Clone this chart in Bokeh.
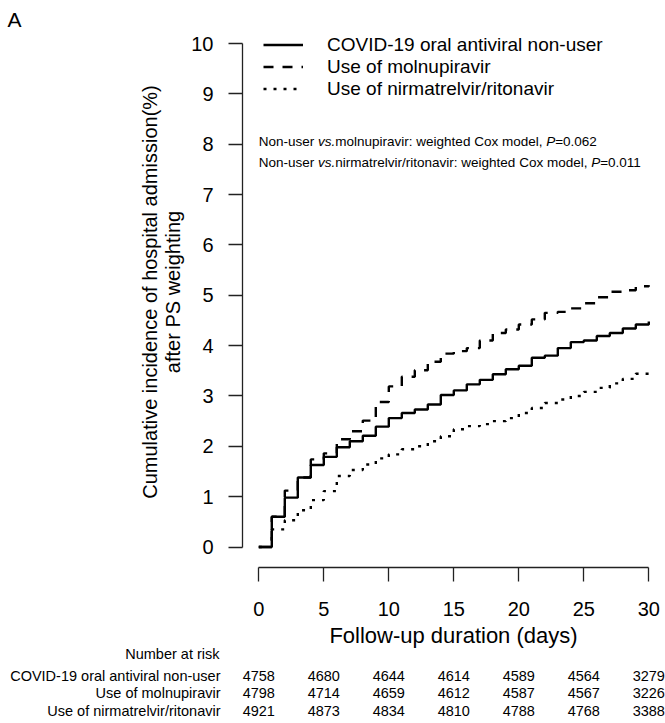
import numpy as np
from bokeh.plotting import figure
from bokeh.models import Range1d, LinearAxis, FixedTicker, Label, Legend, LegendItem
from bokeh.embed import file_html
from bokeh.resources import INLINE

# ---------------- data ----------------
days = list(range(31))
nonuser = [0, 0.60, 0.98, 1.38, 1.63, 1.79, 1.98, 2.10, 2.21, 2.39, 2.56, 2.66, 2.73, 2.83, 3.02,
           3.11, 3.23, 3.32, 3.43, 3.53, 3.60, 3.76, 3.80, 3.95, 4.07, 4.10, 4.19, 4.25, 4.34, 4.42, 4.48]
molnupiravir = [0, 0.60, 1.12, 1.38, 1.74, 1.86, 2.14, 2.30, 2.51, 2.88, 3.19, 3.38, 3.51, 3.68, 3.84,
                3.89, 3.95, 4.10, 4.25, 4.32, 4.42, 4.52, 4.65, 4.67, 4.74, 4.84, 4.96, 5.07, 5.10, 5.18, 5.20]
nirmatrelvir = [0, 0.35, 0.53, 0.73, 0.93, 1.11, 1.41, 1.53, 1.64, 1.76, 1.84, 1.94, 2.00, 2.10, 2.20,
                2.34, 2.40, 2.44, 2.50, 2.56, 2.66, 2.76, 2.86, 2.93, 3.00, 3.08, 3.16, 3.25, 3.34, 3.44, 3.51]

series_names = ["COVID-19 oral antiviral non-user", "Use of molnupiravir", "Use of nirmatrelvir/ritonavir"]
y_ticks = list(range(0, 11))
x_ticks = [0, 5, 10, 15, 20, 25, 30]
risk_days = [0, 5, 10, 15, 20, 25, 30]
risk_nonuser = [4758, 4680, 4644, 4614, 4589, 4564, 3279]
risk_molnupiravir = [4798, 4714, 4659, 4612, 4587, 4567, 3226]
risk_nirmatrelvir = [4921, 4873, 4834, 4810, 4788, 4768, 3388]
annot_line1 = [("Non-user ", "normal"), ("vs.", "italic"), ("molnupiravir: weighted Cox model, ", "normal"),
               ("P", "italic"), ("=0.062", "normal")]
annot_line2 = [("Non-user ", "normal"), ("vs.", "italic"), ("nirmatrelvir/ritonavir: weighted Cox model, ", "normal"),
               ("P", "italic"), ("=0.011", "normal")]

# ---------------- geometry (pixels) ----------------
W, H = 665, 723
X0, PXD = 258.3, 13.0        # pixel of day 0, pixels per day
Y0, PXU = 546.5, 50.35       # pixel of value 0, pixels per unit
YAX_PX = 242                 # y-axis line position
XAX_PX = 567                 # x-axis line position
FONT = "Liberation Sans"


def dx(px):
    return (px - X0) / PXD


def dy(py):
    return (Y0 - py) / PXU


# frame covers the whole canvas; axes are placed with fixed_location
p = figure(width=W, height=H,
           x_range=Range1d(dx(0), dx(W)), y_range=Range1d(dy(H), dy(0)),
           output_backend="svg", toolbar_location=None,
           x_axis_location=None, y_axis_location=None,
           min_border_left=0, min_border_right=0, min_border_top=0, min_border_bottom=0)
p.outline_line_color = None
p.xgrid.visible = False
p.ygrid.visible = False
p.background_fill_color = "white"
p.border_fill_color = "white"

AX_COL = "#222222"
yax = LinearAxis(fixed_location=dx(YAX_PX), bounds=(0, 10), ticker=FixedTicker(ticks=y_ticks),
                 major_tick_out=14, major_tick_in=0, minor_tick_line_color=None,
                 major_label_standoff=15, major_label_text_font_size="20px",
                 major_label_text_font=FONT, major_label_text_color="black",
                 axis_line_color=AX_COL, axis_line_width=1.3,
                 major_tick_line_color=AX_COL, major_tick_line_width=1.3)
p.add_layout(yax, "left")

xax = LinearAxis(fixed_location=dy(XAX_PX), bounds=(0, 30), ticker=FixedTicker(ticks=x_ticks),
                 major_tick_out=14, major_tick_in=0, minor_tick_line_color=None,
                 major_label_standoff=20, major_label_text_font_size="20px",
                 major_label_text_font=FONT, major_label_text_color="black",
                 axis_line_color=AX_COL, axis_line_width=1.3,
                 major_tick_line_color=AX_COL, major_tick_line_width=1.3,
                 axis_label="Follow-up duration (days)", axis_label_standoff=4,
                 axis_label_text_font_size="22px", axis_label_text_font=FONT,
                 axis_label_text_font_style="normal", axis_label_text_color="black")
p.add_layout(xax, "below")

# curves
r1 = p.step(days, nonuser, mode="after", line_color="black", line_width=2.4)
r2 = p.step(days, molnupiravir, mode="after", line_color="black", line_width=2.4, line_dash="10 9")
r3 = p.step(days, nirmatrelvir, mode="after", line_color="black", line_width=2.4, line_dash="3 7")

legend = Legend(items=[LegendItem(label=series_names[0], renderers=[r1]),
                       LegendItem(label=series_names[1], renderers=[r2]),
                       LegendItem(label=series_names[2], renderers=[r3])],
                location=(263, H - 99.5), glyph_width=40, glyph_height=21, label_height=21,
                spacing=0, padding=0, margin=0, label_standoff=24,
                label_text_font_size="19px", label_text_font=FONT, label_text_color="black",
                border_line_color=None, background_fill_alpha=0)
p.add_layout(legend)

# y-axis title (two lines)
p.add_layout(Label(x=dx(149), y=dy(291.5), text="Cumulative incidence of hospital admission(%)",
                   angle=np.pi / 2, text_align="center", text_baseline="middle",
                   text_font=FONT, text_font_size="20px", text_color="black"))
p.add_layout(Label(x=dx(172), y=dy(291.5), text="after PS weighting",
                   angle=np.pi / 2, text_align="center", text_baseline="middle",
                   text_font=FONT, text_font_size="20px", text_color="black"))

# panel letter
p.add_layout(Label(x=dx(7), y=dy(19), text="A", text_align="left", text_baseline="middle",
                   text_font=FONT, text_font_size="21px", text_color="black"))

# annotation with mixed italics (Arial metrics)
AW = {' ': 278, 'N': 722, 'o': 556, 'n': 556, '-': 333, 'u': 556, 's': 500, 'e': 556, 'r': 333,
      'v': 500, '.': 278, 'm': 833, 'l': 222, 'p': 556, 'i': 222, 'a': 556, ':': 278, 'w': 722,
      'g': 556, 'h': 556, 't': 278, 'd': 556, 'C': 722, 'x': 500, ',': 278, 'P': 667, '=': 584,
      '/': 278}
for c in "0123456789":
    AW[c] = 556


def text_w(s, size):
    return sum(AW.get(c, 556) for c in s) / 1000.0 * size


ANN_SIZE = 13.5
for line, ypx in ((annot_line1, 141), (annot_line2, 162)):
    xpx = 258.3
    for seg, style in line:
        p.add_layout(Label(x=dx(xpx), y=dy(ypx), text=seg, text_align="left", text_baseline="middle",
                           text_font=FONT, text_font_size=f"{ANN_SIZE}px", text_font_style=style,
                           text_color="black"))
        xpx += text_w(seg, ANN_SIZE)

# number at risk table
TAB = "14.5px"
p.add_layout(Label(x=dx(219), y=dy(653), text="Number at risk", text_align="right", text_baseline="middle",
                   text_font=FONT, text_font_size=TAB, text_color="black"))
for name, counts, ypx in ((series_names[0], risk_nonuser, 675),
                          (series_names[1], risk_molnupiravir, 692.5),
                          (series_names[2], risk_nirmatrelvir, 710)):
    p.add_layout(Label(x=dx(220), y=dy(ypx), text=name, text_align="right", text_baseline="middle",
                       text_font=FONT, text_font_size=TAB, text_color="black"))
    for d, n in zip(risk_days, counts):
        p.add_layout(Label(x=d, y=dy(ypx), text=str(n), text_align="center", text_baseline="middle",
                           text_font=FONT, text_font_size=TAB, text_color="black"))

open("out.html", "w").write(file_html(p, INLINE))
